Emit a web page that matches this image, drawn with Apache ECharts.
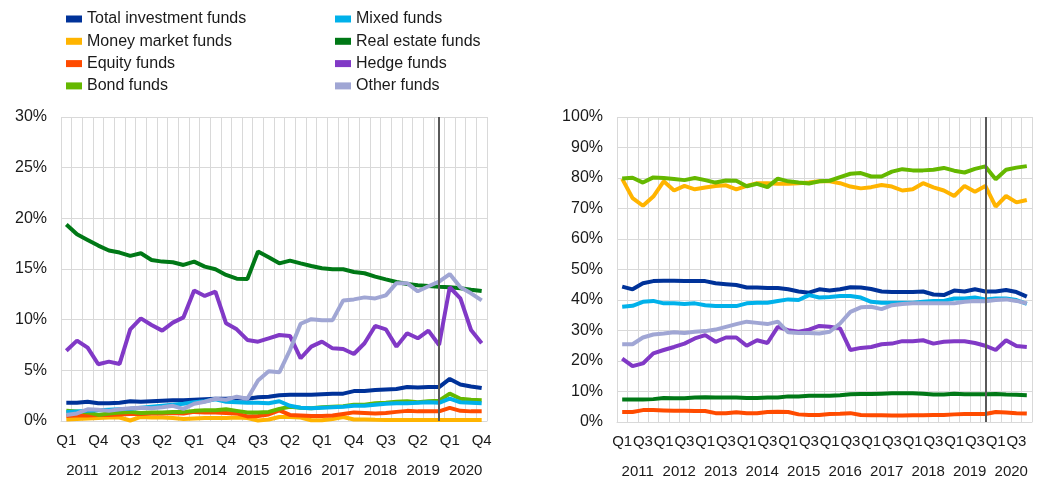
<!DOCTYPE html>
<html>
<head>
<meta charset="utf-8">
<script src="https://cdn.jsdelivr.net/npm/echarts@6/dist/echarts.min.js"></script>
<style>
  html, body { margin: 0; padding: 0; background: #fff; }
  #chart { width: 1038px; height: 479px; }
</style>
</head>
<body>
<div id="chart"></div>
<script>
// tick labels
const years = ['2011', '2012', '2013', '2014', '2015', '2016', '2017', '2018', '2019', '2020'];
const quarters = ['Q1', 'Q2', 'Q3', 'Q4'];
const seriesNames = ['Total investment funds', 'Money market funds', 'Equity funds', 'Bond funds',
  'Mixed funds', 'Real estate funds', 'Hedge funds', 'Other funds'];
const colors = ['#003299', '#ffb400', '#ff4b00', '#65b800', '#00b1ea', '#007816', '#8139c6', '#a0a6d4'];

// left panel (0-30%)
const totalL = [1.8, 1.8, 1.9, 1.75, 1.75, 1.8, 1.95, 1.9, 1.95, 2.0, 2.05, 2.05, 2.1, 2.15, 2.2, 2.2, 2.25, 2.2, 2.35, 2.4,
  2.55, 2.6, 2.6, 2.6, 2.65, 2.7, 2.7, 2.95, 2.95, 3.05, 3.1, 3.15, 3.35, 3.3, 3.35, 3.35, 4.15, 3.6, 3.4, 3.25];
const mmfL = [0.15, 0.2, 0.25, 0.3, 0.35, 0.35, 0.05, 0.4, 0.35, 0.35, 0.3, 0.2, 0.25, 0.3, 0.3, 0.3, 0.35, 0.3, 0.05, 0.15,
  0.4, 0.4, 0.35, 0.07, 0.07, 0.2, 0.4, 0.15, 0.15, 0.12, 0.1, 0.1, 0.1, 0.1, 0.1, 0.1, 0.1, 0.1, 0.1, 0.1];
const equityL = [0.5, 0.55, 0.55, 0.6, 0.6, 0.65, 0.7, 0.7, 0.75, 0.75, 0.8, 0.75, 0.9, 0.85, 0.85, 0.8, 0.75, 0.45, 0.5, 0.65,
  1.05, 0.6, 0.55, 0.5, 0.5, 0.55, 0.7, 0.85, 0.8, 0.75, 0.8, 0.9, 1.0, 0.95, 0.95, 0.95, 1.3, 1.0, 0.95, 0.95];
const bondL = [1.0, 0.95, 0.85, 0.6, 0.75, 0.85, 0.9, 0.8, 0.85, 0.85, 0.9, 0.9, 1.0, 1.05, 1.05, 1.15, 1.0, 0.85, 0.85, 0.9,
  1.2, 1.4, 1.3, 1.25, 1.35, 1.4, 1.45, 1.6, 1.6, 1.75, 1.8, 1.9, 1.95, 1.85, 1.95, 2.0, 2.7, 2.2, 2.1, 2.05];
const mixedL = [0.9, 0.95, 1.0, 1.05, 1.1, 1.15, 1.2, 1.3, 1.4, 1.5, 1.6, 1.7, 1.85, 1.95, 2.15, 1.9, 1.85, 1.8, 1.8, 1.75,
  1.95, 1.5, 1.3, 1.25, 1.3, 1.35, 1.4, 1.5, 1.5, 1.6, 1.7, 1.75, 1.75, 1.8, 1.85, 1.8, 2.2, 1.85, 1.8, 1.75];
const realEstateL = [19.4, 18.43, 17.87, 17.31, 16.82, 16.62, 16.29, 16.55, 15.89, 15.73, 15.66, 15.4, 15.73, 15.24, 14.97, 14.41, 14.05, 14.02, 16.72, 16.16,
  15.56, 15.83, 15.56, 15.3, 15.07, 14.97, 14.97, 14.71, 14.58, 14.25, 13.98, 13.72, 13.52, 13.39, 13.33, 13.26, 13.2, 13.1, 12.96, 12.83];
const hedgeL = [6.94, 7.93, 7.24, 5.6, 5.86, 5.63, 9.05, 10.13, 9.48, 8.92, 9.71, 10.23, 12.87, 12.34, 12.77, 9.64, 9.05, 8.0, 7.83, 8.16,
  8.49, 8.39, 6.19, 7.34, 7.83, 7.17, 7.11, 6.61, 7.67, 9.38, 9.05, 7.34, 8.66, 8.16, 8.92, 7.5, 13.2, 12.11, 8.98, 7.67];
const otherL = [0.6, 0.75, 1.15, 1.1, 1.0, 1.15, 1.25, 1.3, 1.25, 1.35, 1.5, 1.2, 1.7, 1.9, 2.2, 2.1, 2.4, 2.2, 4.0, 4.9,
  4.8, 7.0, 9.6, 10.05, 9.95, 9.95, 11.9, 12.0, 12.2, 12.1, 12.4, 13.6, 13.6, 12.8, 13.3, 13.75, 14.5, 13.2, 12.6, 11.9];

// right panel (0-100%)
const totalR = [44.4, 43.5, 45.5, 46.2, 46.3, 46.3, 46.2, 46.2, 46.2, 45.5, 45.2, 44.9, 44.1, 44.1, 43.9, 43.9, 43.5, 42.8, 42.4, 43.5,
  43.1, 43.5, 44.2, 44.1, 43.6, 42.8, 42.6, 42.6, 42.6, 42.8, 41.8, 41.6, 43.1, 42.8, 43.5, 42.8, 42.8, 43.3, 42.6, 41.1];
const mmfR = [79.7, 73.4, 70.9, 73.9, 78.9, 75.9, 77.4, 76.3, 76.9, 77.4, 77.6, 76.3, 77.4, 78.3, 78.3, 78.1, 78.1, 78.3, 78.5, 78.9,
  78.9, 78.3, 77.2, 76.6, 77.0, 77.7, 77.2, 75.9, 76.3, 78.3, 76.9, 75.9, 74.1, 77.4, 75.5, 77.4, 70.6, 74.1, 72.0, 72.8];
const equityR = [3.3, 3.3, 3.9, 3.9, 3.8, 3.7, 3.7, 3.6, 3.6, 2.9, 2.9, 3.2, 2.9, 2.9, 3.3, 3.4, 3.3, 2.5, 2.3, 2.3,
  2.6, 2.7, 2.9, 2.3, 2.2, 2.2, 2.1, 2.1, 2.2, 2.2, 2.3, 2.3, 2.5, 2.6, 2.6, 2.6, 3.3, 3.1, 2.9, 2.8];
const bondR = [79.8, 80.1, 78.5, 80.2, 80.0, 79.7, 79.3, 80.0, 79.3, 78.5, 79.2, 79.1, 77.3, 78.1, 77.0, 79.8, 78.9, 78.5, 78.2, 78.9,
  79.1, 80.3, 81.4, 81.6, 80.5, 80.5, 82.1, 82.9, 82.5, 82.5, 82.7, 83.3, 82.4, 81.8, 83.0, 83.8, 79.6, 82.7, 83.4, 83.9];
const mixedR = [37.8, 38.1, 39.4, 39.7, 38.9, 38.9, 38.7, 38.9, 38.3, 38.0, 38.0, 38.0, 38.9, 39.1, 39.1, 39.7, 40.2, 40.0, 41.6, 40.8,
  41.0, 41.3, 41.3, 40.8, 39.4, 39.1, 39.1, 39.1, 39.1, 39.4, 39.7, 39.7, 40.5, 40.5, 40.8, 40.2, 40.5, 40.5, 40.0, 38.7];
const realEstateR = [7.4, 7.4, 7.4, 7.5, 7.9, 7.8, 7.8, 8.0, 8.1, 8.0, 8.0, 8.0, 7.9, 7.9, 8.0, 8.0, 8.4, 8.4, 8.6, 8.6,
  8.6, 8.8, 9.1, 9.2, 9.2, 9.3, 9.4, 9.4, 9.4, 9.3, 9.0, 9.0, 9.3, 9.1, 9.1, 9.1, 9.2, 9.0, 8.9, 8.8];
const hedgeR = [20.8, 18.3, 19.2, 22.5, 23.6, 24.6, 25.7, 27.4, 28.5, 26.3, 27.7, 27.7, 25.0, 26.8, 25.9, 31.2, 30.1, 29.6, 30.3, 31.5,
  31.2, 30.7, 23.6, 24.3, 24.6, 25.5, 25.7, 26.5, 26.5, 26.8, 25.7, 26.3, 26.5, 26.5, 25.9, 25.0, 23.6, 26.8, 24.9, 24.6];
const otherR = [25.5, 25.5, 27.7, 28.7, 29.0, 29.4, 29.2, 29.6, 29.8, 30.3, 31.2, 32.1, 32.9, 32.5, 32.1, 32.9, 29.4, 29.2, 29.2, 29.0,
  29.6, 32.3, 36.1, 37.6, 37.8, 37.0, 38.3, 38.7, 38.9, 38.9, 38.9, 38.9, 38.9, 39.4, 39.7, 39.6, 40.0, 40.2, 39.7, 38.9];

const markIndex = 35; // Q4 2019

const categories = [];
years.forEach(function (y) {
  quarters.forEach(function (q) { categories.push(y + ' ' + q); });
});

const leftData = [totalL, mmfL, equityL, bondL, mixedL, realEstateL, hedgeL, otherL];
const rightData = [totalR, mmfR, equityR, bondR, mixedR, realEstateR, hedgeR, otherR];

const font = 'Liberation Sans, Arial, sans-serif';
const gridColor = '#d9d9d9';

function quarterAxis(gridIndex, interval) {
  return {
    type: 'category',
    gridIndex: gridIndex,
    data: categories,
    boundaryGap: true,
    axisLine: { show: true, lineStyle: { color: gridColor } },
    axisTick: { show: false },
    splitLine: { show: true, interval: 0, lineStyle: { color: gridColor, width: 1 } },
    axisLabel: {
      interval: interval,
      margin: 12,
      color: '#1a1a1a',
      fontSize: 15,
      fontFamily: font,
      formatter: function (v) { return v.split(' ')[1]; }
    }
  };
}

function yearAxis(gridIndex) {
  return {
    type: 'category',
    gridIndex: gridIndex,
    data: years,
    position: 'bottom',
    offset: 30,
    axisLine: { show: false },
    axisTick: { show: false },
    splitLine: { show: false },
    axisLabel: { interval: 0, margin: 12, color: '#1a1a1a', fontSize: 15, fontFamily: font }
  };
}

function valueAxis(gridIndex, max, interval) {
  return {
    type: 'value',
    gridIndex: gridIndex,
    min: 0,
    max: max,
    interval: interval,
    axisLine: { show: false },
    axisTick: { show: false },
    splitLine: { lineStyle: { color: gridColor, width: 1 } },
    axisLabel: {
      margin: 14,
      color: '#1a1a1a',
      fontSize: 16,
      fontFamily: font,
      formatter: '{value}%'
    }
  };
}

function makeSeries(dataSets, axisIndex) {
  return dataSets.map(function (d, i) {
    const s = {
      name: seriesNames[i],
      type: 'line',
      xAxisIndex: axisIndex,
      yAxisIndex: axisIndex,
      data: d,
      symbol: 'none',
      smooth: false,
      lineStyle: { width: 4, color: colors[i] },
      itemStyle: { color: colors[i] }
    };
    if (i === 0) {
      s.markLine = {
        silent: true,
        symbol: 'none',
        label: { show: false },
        lineStyle: { color: '#595959', width: 2, type: 'solid' },
        data: [{ xAxis: markIndex }]
      };
    }
    return s;
  });
}

const chart = echarts.init(document.getElementById('chart'), null, { renderer: 'canvas' });

const legendBase = {
  orient: 'vertical',
  top: 6,
  icon: 'rect',
  itemWidth: 16,
  itemHeight: 7,
  itemGap: 6.3,
  itemTextGap: 12,
  selectedMode: false,
  textStyle: { fontSize: 16, fontFamily: font, color: '#1a1a1a' }
};

chart.setOption({
  animation: false,
  color: colors,
  legend: [
    Object.assign({}, legendBase, { left: 61, data: seriesNames.slice(0, 4) }),
    Object.assign({}, legendBase, { left: 330, data: seriesNames.slice(4) })
  ],
  grid: [
    { left: 61, right: 551, top: 117, bottom: 58 },
    { left: 617, right: 6, top: 117, bottom: 57 }
  ],
  xAxis: [quarterAxis(0, 2), quarterAxis(1, 1), yearAxis(0), yearAxis(1)],
  yAxis: [valueAxis(0, 30, 5), valueAxis(1, 100, 10)],
  series: makeSeries(leftData, 0).concat(makeSeries(rightData, 1))
});
</script>
</body>
</html>
